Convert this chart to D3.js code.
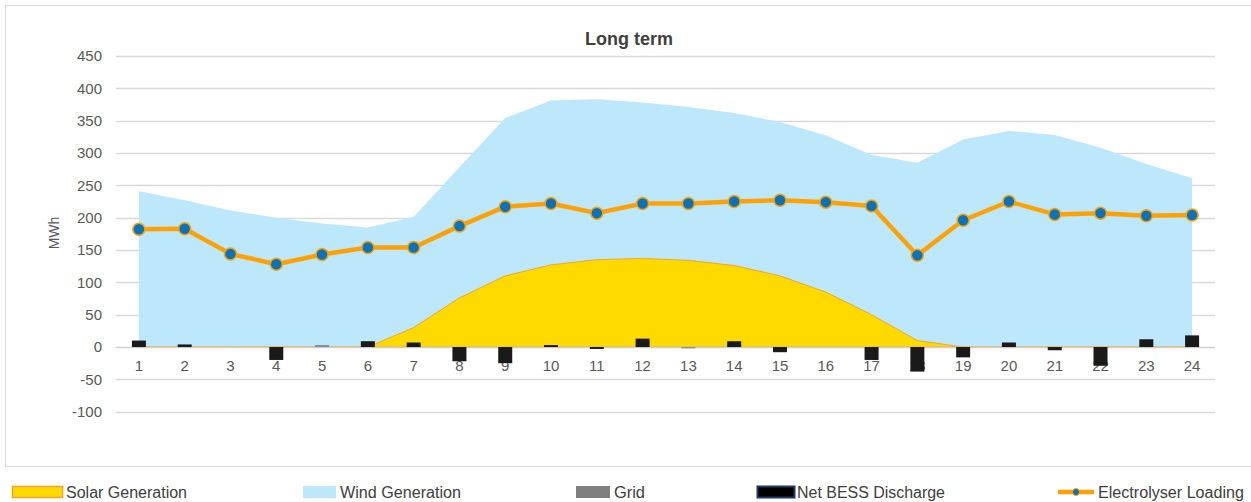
<!DOCTYPE html>
<html><head><meta charset="utf-8">
<script src="https://cdn.jsdelivr.net/npm/d3@7"></script>
<style>
html,body{margin:0;padding:0;background:#fff;}
svg{display:block;font-family:"Liberation Sans",Arial,sans-serif;}
</style></head>
<body>
<svg id="c" width="1251" height="502"></svg>
<script>
const hours = d3.range(1, 25);
const solar = [0,0,0,0,0,0,30,76,110,127,135,137,134,126,110,85,50,10,0,0,0,0,0,0];
const wind = [241,227,211,200,191,185,201,278,354,381,383,378,371,362,348,327,297,285,321,334,328,308,283,261];
const grid = [0,0,0,0,3,0,0,0,0,0,0,0,-2,0,0,0,0,0,0,0,0,0,0,0];
const bess = [10,4,0,-20,0,9,7,-22,-25,3,-3,13,0,9,-8,0,-20,-38,-16,7,-5,-29,12,18];
const electrolyser = [182,183,144,128,143,154,154,187,217,222,207,222,222,225,227,224,218,142,196,225,205,207,203,204];
const yTicks = [-100,-50,0,50,100,150,200,250,300,350,400,450];
const legendItems = ["Solar Generation","Wind Generation","Grid","Net BESS Discharge","Electrolyser Loading"];

const svg = d3.select("#c");
const x = d3.scaleBand().domain(hours).range([116, 1215]);
const cx = h => x(h) + x.bandwidth()/2;
const y = d3.scaleLinear().domain([-100, 450]).range([411.7, 56]);

// frame
svg.append("rect").attr("x",5.5).attr("y",5.5).attr("width",1260).attr("height",461)
  .attr("fill","#fff").attr("stroke","#d9d9d9").attr("stroke-width",1);

// gridlines
svg.append("g").selectAll("line").data(yTicks.filter(d=>d!==0)).join("line")
  .attr("x1",116).attr("x2",1215).attr("y1",d=>Math.round(y(d))+0.5).attr("y2",d=>Math.round(y(d))+0.5)
  .attr("stroke","#d9d9d9").attr("stroke-width",1.3);

// y tick labels via axis
const yAxis = svg.append("g").attr("transform","translate(116,0)")
  .call(d3.axisLeft(y).tickValues(yTicks).tickFormat(d=>String(d)).tickSize(0).tickPadding(14));
yAxis.select(".domain").remove();
yAxis.selectAll("text").attr("fill","#595959").style("font-size","15px").style("font-family","'Liberation Sans',Arial,sans-serif");

// areas
const windArea = d3.area().x((d,i)=>cx(hours[i])).y0(y(0)).y1(d=>y(d));
svg.append("path").datum(wind).attr("d",windArea).attr("fill","#bde7fb");
const solarArea = d3.area().x((d,i)=>cx(hours[i])).y0(y(0)).y1(d=>y(d));
svg.append("path").datum(solar).attr("d",solarArea).attr("fill","#ffda00")
  .attr("stroke","#f5a623").attr("stroke-width",1);

// zero axis
svg.append("line").attr("x1",116).attr("x2",1215).attr("y1",Math.round(y(0))+0.5).attr("y2",Math.round(y(0))+0.5)
  .attr("stroke","#d0d0d0").attr("stroke-width",1.3);

// x labels via axis
const xAxis = svg.append("g").attr("transform",`translate(0,${y(0)})`)
  .call(d3.axisBottom(x).tickSize(0).tickPadding(13));
xAxis.select(".domain").remove();
xAxis.selectAll("text").attr("fill","#595959").style("font-size","15px").style("font-family","'Liberation Sans',Arial,sans-serif");

// bars
const bw = 14;
svg.append("g").selectAll("rect").data(grid.map((v,i)=>({h:hours[i],v}))).join("rect")
  .attr("x",d=>cx(d.h)-bw/2).attr("width",bw)
  .attr("y",d=>Math.min(y(d.v),y(0))).attr("height",d=>Math.abs(y(d.v)-y(0)))
  .attr("fill","#8c8c8c");
svg.append("g").selectAll("rect").data(bess.map((v,i)=>({h:hours[i],v}))).join("rect")
  .attr("x",d=>cx(d.h)-bw/2).attr("width",bw)
  .attr("y",d=>Math.min(y(d.v),y(0))).attr("height",d=>Math.abs(y(d.v)-y(0)))
  .attr("fill","#1a1a1a");

// electrolyser line
svg.append("path").datum(electrolyser)
  .attr("d",d3.line().x((d,i)=>cx(hours[i])).y(d=>y(d)))
  .attr("fill","none").attr("stroke","#ffa200").attr("stroke-width",4.5).attr("stroke-linejoin","round");
svg.append("g").selectAll("circle").data(electrolyser).join("circle")
  .attr("cx",(d,i)=>cx(hours[i])).attr("cy",d=>y(d)).attr("r",6)
  .attr("fill","#0a72b8").attr("stroke","#ffa200").attr("stroke-width",1.5);

// title
svg.append("text").attr("x",629).attr("y",45).attr("text-anchor","middle")
  .style("font-size","18px").style("font-weight","bold").attr("fill","#404040").text("Long term");

// y label
svg.append("text").attr("transform","translate(59,233) rotate(-90)").attr("text-anchor","middle")
  .style("font-size","14px").attr("fill","#595959").text("MWh");

// legend
const lg = svg.append("g");
const lx = [12,303,576,757,1058];
const tx = [66,340,614,797,1098];
const tw = [121,121,31,148,146];
lg.append("rect").attr("x",lx[0]+0.5).attr("y",486.5).attr("width",50).attr("height",11).attr("fill","#ffda00").attr("stroke","#f5a623").attr("stroke-width",1.5);
lg.append("rect").attr("x",lx[1]).attr("y",486).attr("width",33).attr("height",12).attr("fill","#bde7fb");
lg.append("rect").attr("x",lx[2]).attr("y",486).attr("width",34).attr("height",12).attr("fill","#7f7f7f");
lg.append("rect").attr("x",lx[3]+0.5).attr("y",486.5).attr("width",37).attr("height",11).attr("fill","#000").attr("stroke","#1f3864").attr("stroke-width",2);
lg.append("line").attr("x1",lx[4]).attr("x2",lx[4]+36).attr("y1",492).attr("y2",492).attr("stroke","#ffa200").attr("stroke-width",4.5);
lg.append("circle").attr("cx",lx[4]+18).attr("cy",492).attr("r",3.5).attr("fill","#0a72b8").attr("stroke","#ffa200").attr("stroke-width",1);
lg.selectAll("text.l").data(legendItems).join("text").attr("class","l")
  .attr("x",(d,i)=>tx[i]).attr("y",497.5).attr("textLength",(d,i)=>tw[i]).attr("lengthAdjust","spacingAndGlyphs")
  .style("font-size","16px").attr("fill","#404040").text(d=>d);
</script>
</body></html>
